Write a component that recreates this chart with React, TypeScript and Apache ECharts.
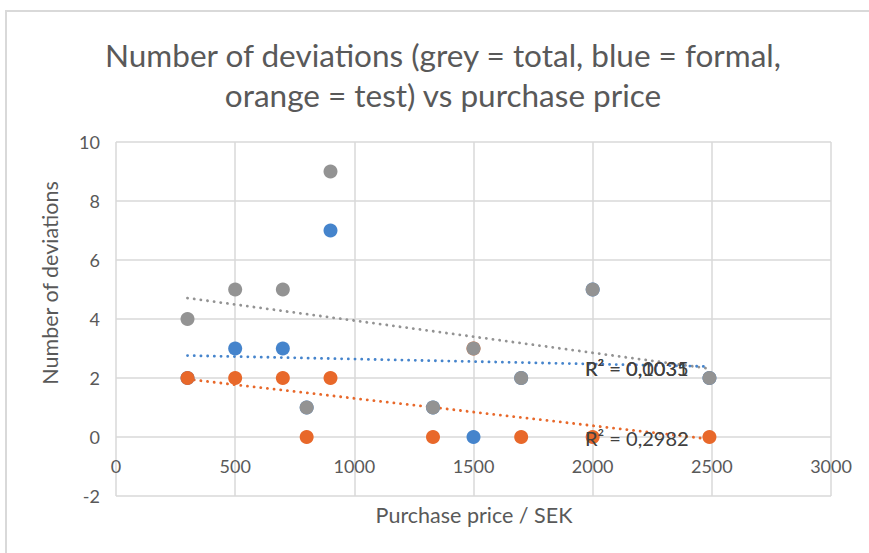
import React, { useEffect, useRef } from "react";
import * as echarts from "echarts";

const priceX = [300, 500, 700, 800, 900, 1330, 1500, 1700, 2000, 2490];
const totalDev = [4, 5, 5, 1, 9, 1, 3, 2, 5, 2];
const formalDev = [2, 3, 3, 1, 7, 1, 0, 2, 5, 2];
const testDev = [2, 2, 2, 0, 2, 0, 3, 0, 0, 0];

const trendX = [300, 2490];
const totalTrend = [4.71, 2.32];
const formalTrend = [2.76, 2.39];
const testTrend = [1.96, -0.07];

const titleLines = [
  "Number of deviations (grey = total, blue = formal,",
  "orange = test) vs purchase price",
];
const xTitle = "Purchase price / SEK";
const yTitle = "Number of deviations";
const r2Labels = ["R² = 0,1031", "R² = 0,0035", "R² = 0,2982"];

const GREY = "#939393";
const BLUE = "#4584CC";
const ORANGE = "#E8682A";
const FONT = "Lato, 'Open Sans', sans-serif";
const TXT = "#595959";

const pts = (ys: number[]) => priceX.map((x, i) => [x, ys[i]]);
const line = (ys: number[]) => trendX.map((x, i) => [x, ys[i]]);

export default function App() {
  const ref = useRef<HTMLDivElement>(null);
  useEffect(() => {
    if (!ref.current) return;
    const chart = echarts.init(ref.current, null, { renderer: "svg" });
    const trend = (name: string, ys: number[], color: string) => ({
      name,
      type: "line",
      data: line(ys),
      symbol: "none",
      z: 1,
      lineStyle: { color, width: 2.8, type: [0.1, 6.6], cap: "round" },
      silent: true,
    });
    const scatter = (name: string, ys: number[], color: string, z: number) => ({
      name,
      type: "scatter",
      data: pts(ys),
      symbolSize: 14,
      z,
      itemStyle: { color, opacity: 1 },
    });
    chart.setOption({
      animation: false,
      backgroundColor: "#ffffff",
      grid: { left: 116, right: 38, top: 142, bottom: 57, containLabel: false },
      xAxis: {
        type: "value",
        min: 0,
        max: 3000,
        interval: 500,
        axisLine: { show: false },
        axisTick: { show: false },
        axisLabel: {
          color: TXT,
          fontFamily: FONT,
          fontSize: 18,
          margin: -39,
          formatter: (v: number) => String(v),
        },
        splitLine: { show: true, showMinLine: true, showMaxLine: true, lineStyle: { color: "#d9d9d9", width: 1.5 } },
      },
      yAxis: {
        type: "value",
        min: -2,
        max: 10,
        interval: 2,
        axisLine: { show: false },
        axisTick: { show: false },
        axisLabel: { color: TXT, fontFamily: FONT, fontSize: 18, margin: 16 },
        splitLine: { show: true, showMinLine: true, showMaxLine: true, lineStyle: { color: "#d9d9d9", width: 1.5 } },
      },
      series: [
        trend("total trend", totalTrend, GREY),
        trend("formal trend", formalTrend, BLUE),
        trend("test trend", testTrend, ORANGE),
        scatter("formal", formalDev, BLUE, 2),
        scatter("test", testDev, ORANGE, 3),
        scatter("total", totalDev, GREY, 4),
      ],
      graphic: [
        {
          type: "rect",
          shape: { x: 6, y: 11, width: 1000, height: 700 },
          style: { fill: "none", stroke: "#d9d9d9", lineWidth: 2 },
          silent: true,
          z: -10,
        },
        ...titleLines.map((t, i) => ({
          type: "text",
          x: 443,
          y: 55 + i * 40,
          style: {
            text: t,
            fill: TXT,
            font: `31.5px ${FONT}`,
            textAlign: "center",
            textVerticalAlign: "middle",
          },
        })),
        {
          type: "text",
          x: 474,
          y: 515,
          style: { text: xTitle, fill: TXT, font: `21.5px ${FONT}`, textAlign: "center", textVerticalAlign: "middle" },
        },
        {
          type: "text",
          x: 50,
          y: 283,
          rotation: Math.PI / 2,
          style: { text: yTitle, fill: TXT, font: `21.5px ${FONT}`, textAlign: "center", textVerticalAlign: "middle" },
        },
        {
          type: "text",
          x: 585,
          y: 368,
          z: 100,
          style: { text: r2Labels[0], fill: "#404040", font: `20px ${FONT}`, textAlign: "left", textVerticalAlign: "middle" },
        },
        {
          type: "text",
          x: 585,
          y: 368,
          z: 100,
          style: { text: r2Labels[1], fill: "#404040", font: `20px ${FONT}`, textAlign: "left", textVerticalAlign: "middle" },
        },
        {
          type: "text",
          x: 585,
          y: 438,
          z: 100,
          style: { text: r2Labels[2], fill: "#404040", font: `20px ${FONT}`, textAlign: "left", textVerticalAlign: "middle" },
        },
      ],
    });
    return () => chart.dispose();
  }, []);
  return (
    <div
      ref={ref}
      style={{ position: "fixed", left: 0, top: 0, width: 869, height: 553, background: "#fff" }}
    />
  );
}
